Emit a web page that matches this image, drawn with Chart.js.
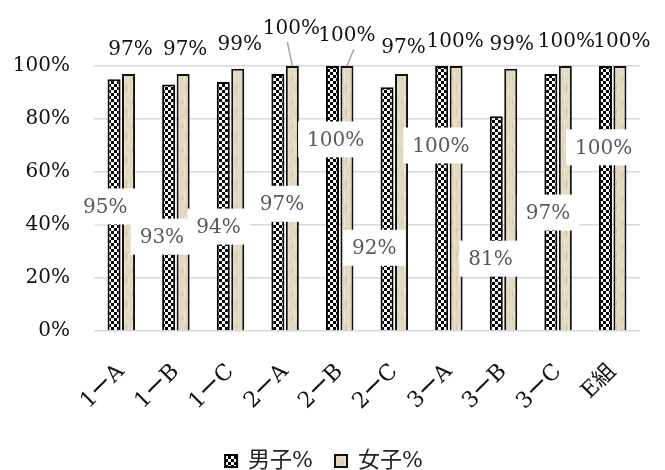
<!DOCTYPE html>
<html>
<head>
<meta charset="utf-8">
<script src="https://cdn.jsdelivr.net/npm/chart.js@4/dist/chart.umd.min.js"></script>
<style>
  html, body { margin: 0; padding: 0; background: #fff; }
  #wrap { width: 665px; height: 470px; }
</style>
</head>
<body>
<div id="wrap"><canvas id="chart" width="665" height="470"></canvas></div>
<script>
// Data
const categories = ['1ーA', '1ーB', '1ーC', '2ーA', '2ーB', '2ーC', '3ーA', '3ーB', '3ーC', 'E組'];
const boysPct = [95, 93, 94, 97, 100, 92, 100, 81, 97, 100];
const girlsPct = [97, 97, 99, 100, 100, 97, 100, 99, 100, 100];
const seriesNames = ['男子%', '女子%'];
const yTicks = [0, 20, 40, 60, 80, 100];

const FONT = '"DejaVu Serif", "Noto Sans CJK JP", serif';

// label placement (manual in the original, like excel moved labels)
const boyLabelAt = [47, 35.6, 39.4, 48, 72.3, 31.4, 70, 27.3, 44.7, 69.3]; // y value of label centre
const boyLabelDx = [-16, -14, -12, -3, -4, -20, -8, -13, -10, -9];
const girlLabelLift = [24, 24, 24, 37, 30, 26, 24, 24, 24, 24];
const girlLabelDx = [2, 2, 2, -1, 0, 2, -1, 1, 1, 2];

function checkerPattern(ctx) {
    const c = document.createElement('canvas');
    c.width = 6; c.height = 6;
    const g = c.getContext('2d');
    g.fillStyle = '#fff';
    g.fillRect(0, 0, 6, 6);
    g.fillStyle = '#000';
    g.fillRect(0, 0, 3, 3);
    g.fillRect(3, 3, 3, 3);
    return ctx.createPattern(c, 'repeat');
}

function parchmentPattern(ctx) {
    const c = document.createElement('canvas');
    c.width = 10; c.height = 24;
    const g = c.getContext('2d');
    g.fillStyle = '#e2d9c0';
    g.fillRect(0, 0, 10, 24);
    g.fillStyle = '#d3c8a8';
    g.fillRect(2, 3, 1, 6);
    g.fillRect(6, 12, 1, 8);
    g.fillStyle = '#ece6d3';
    g.fillRect(4, 0, 1, 10);
    g.fillRect(8, 14, 1, 7);
    return ctx.createPattern(c, 'repeat');
}

const labelPlugin = {
    id: 'barLabels',
    afterDatasetsDraw(chart) {
        const ctx = chart.ctx;
        const y = chart.scales.y;
        const boys = chart.getDatasetMeta(0).data;
        const girls = chart.getDatasetMeta(1).data;
        ctx.save();
        ctx.font = '20px ' + FONT;
        ctx.textAlign = 'center';
        ctx.textBaseline = 'middle';

        // boys: white boxes in the middle of the plot
        boys.forEach((bar, i) => {
            const txt = boysPct[i] + '%';
            const cx = (bar.x + girls[i].x) / 2 + boyLabelDx[i];
            const cy = y.getPixelForValue(boyLabelAt[i]);
            const w = ctx.measureText(txt).width + 18;
            const h = 36;
            ctx.fillStyle = '#fff';
            ctx.fillRect(cx - w / 2, cy - h / 2, w, h);
            ctx.fillStyle = '#595959';
            ctx.fillText(txt, cx, cy + 1);
        });

        // girls: above the bars, two of them with leader lines
        girls.forEach((bar, i) => {
            const txt = girlsPct[i] + '%';
            const cx = bar.x + girlLabelDx[i];
            const cy = bar.y - girlLabelLift[i];
            if (girlLabelLift[i] > 28) {
                ctx.strokeStyle = '#a6a6a6';
                ctx.lineWidth = 1.5;
                ctx.beginPath();
                ctx.moveTo(i === 3 ? cx - 4 : cx + 7, cy + 13);
                ctx.lineTo(bar.x, bar.y);
                ctx.stroke();
            }
            ctx.fillStyle = '#111';
            ctx.fillText(txt, cx, cy);
        });
        ctx.restore();
    }
};

const canvas = document.getElementById('chart');
const ctx = canvas.getContext('2d');

new Chart(ctx, {
    type: 'bar',
    data: {
        labels: categories,
        datasets: [{
            label: seriesNames[0],
            data: boysPct,
            backgroundColor: checkerPattern(ctx),
            borderColor: '#000',
            borderWidth: 2,
            categoryPercentage: 0.53,
            barPercentage: 0.9
        }, {
            label: seriesNames[1],
            data: girlsPct,
            backgroundColor: parchmentPattern(ctx),
            borderColor: '#111',
            borderWidth: 2,
            categoryPercentage: 0.53,
            barPercentage: 0.9
        }]
    },
    options: {
        responsive: false,
        animation: false,
        layout: { padding: { top: 66, left: 8, right: 25, bottom: -12 } },
        plugins: {
            legend: {
                position: 'bottom',
                labels: {
                    font: { family: FONT, size: 22 },
                    color: '#222',
                    boxWidth: 12,
                    boxHeight: 12,
                    padding: 22
                }
            },
            tooltip: { enabled: false }
        },
        scales: {
            x: {
                grid: { display: false },
                border: { display: false },
                ticks: {
                    font: { family: FONT, size: 22 },
                    color: '#111',
                    minRotation: 45,
                    maxRotation: 45,
                    padding: 20
                },
                afterFit(scale) { scale.height = 97; }
            },
            y: {
                min: 0,
                max: 100,
                afterBuildTicks(scale) {
                    scale.ticks = yTicks.map(v => ({ value: v }));
                },
                grid: { color: '#d9d9d9', lineWidth: 1.5, drawTicks: false },
                border: { display: false },
                ticks: {
                    font: { family: FONT, size: 20 },
                    color: '#111',
                    padding: 24,
                    callback: v => v + '%'
                },
                afterFit(scale) { scale.width = 86; }
            }
        }
    },
    plugins: [labelPlugin]
});
</script>
</body>
</html>
